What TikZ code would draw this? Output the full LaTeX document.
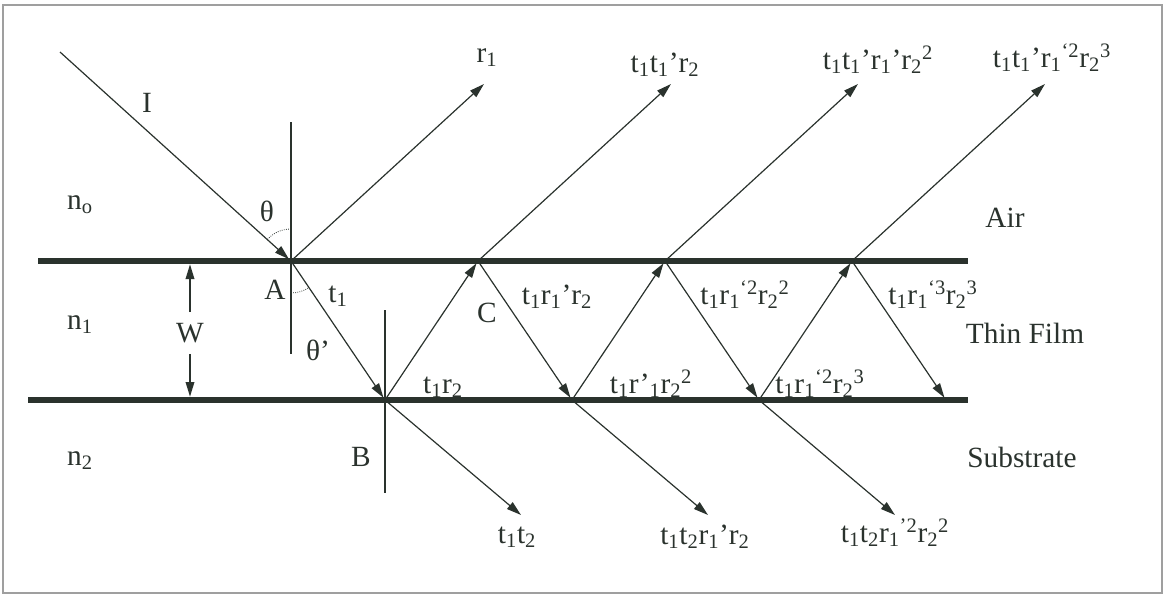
\documentclass[tikz,border=0pt]{standalone}
\usepackage{fontspec}
\setmainfont{Liberation Serif}
\usepackage{tikz}
\usetikzlibrary{arrows.meta}
\definecolor{ink}{HTML}{2A322D}
\newcommand\lowr[1]{\textsubscript{#1}}
\newcommand\highr[1]{\textsuperscript{#1}}

\begin{document}
\begin{tikzpicture}[x=0.75pt,y=-0.75pt,font=\fontsize{22}{26}\selectfont,
  ray/.style={ink,line width=0.9pt,-{Triangle[length=11pt,width=6.5pt]}},
  face/.style={ink,line width=5pt},
  normal/.style={ink,line width=1.1pt},
  angarc/.style={ink,line width=0.6pt,densely dotted},
  lbl/.style={inner sep=0pt,text=ink}]
\useasboundingbox (0,0) rectangle (1165,597);
\draw[gray!75,line width=1.2pt] (3,5) rectangle (1162,593);

\draw[face] (38,261) -- (968,261);
\draw[face] (28,400) -- (968,400);

\coordinate (src) at (60,52);
\foreach \k in {0,1,2,3} {
    \coordinate (top\k) at (291+187*\k,261);
    \coordinate (bot\k) at (385+187*\k,400);
    \coordinate (out\k) at (484+187*\k,84);
}
\foreach \k in {0,1,2}
    \coordinate (sub\k) at (521+187*\k,515);

\coordinate (nA1) at (291,122);
\coordinate (nA2) at (291,354);
\coordinate (nB1) at (385,310);
\coordinate (nB2) at (385,493);
\draw[normal] (nA1) -- (nA2);
\draw[normal] (nB1) -- (nB2);

\draw[ray,shorten >=2pt] (src) -- (top0);
\draw[ray,shorten >=2pt] (top0) -- (bot0);
\foreach \k/\n in {0/1,1/2,2/3}
    \draw[ray,shorten >=2pt] (bot\k) -- (top\n);
\foreach \k in {1,2,3}
    \draw[ray,shorten >=2pt] (top\k) -- (bot\k);
\foreach \k in {0,1,2,3}
    \draw[ray] (top\k) -- (out\k);
\foreach \k in {0,1,2}
    \draw[ray] (bot\k) -- (sub\k);

\coordinate (thA) at (291,229);
\coordinate (thB) at (291,293);
\draw[angarc] (thA) arc[start angle=90,end angle=138,radius=24pt];
\draw[angarc] (thB) arc[start angle=270,end angle=304,radius=24pt];

\coordinate (wup) at (190,261);
\coordinate (wdn) at (190,400);
\node[lbl,inner ysep=8pt] (wlbl) at (190,333) {W};
\draw[ray,shorten >=2.5pt] (wlbl) -- (wup);
\draw[ray,shorten >=2.5pt] (wlbl) -- (wdn);

\node[lbl] (inc) at (147,103) {I};
\node[lbl] (theta) at (267,211) {θ};
\node[lbl] (thetap) at (318,350) {θ’};
\node[lbl] (ptA) at (275,290) {A};
\node[lbl] (ptB) at (361,457) {B};
\node[lbl] (ptC) at (487,313) {C};
\node[lbl] (tA) at (338,296) {t\lowr{1}};

\node[lbl] (n0) at (80,205) {n\lowr{o}};
\node[lbl] (n1) at (80,325) {n\lowr{1}};
\node[lbl] (n2) at (80,461) {n\lowr{2}};
\node[lbl] (air) at (1005,218) {Air};
\node[lbl] (film) at (1025,333) {Thin Film};
\node[lbl] (subs) at (1022,457) {Substrate};

\node[lbl] (r0) at (487,58) {r\lowr{1}};
\node[lbl] (r1) at (665,65) {t\lowr{1}t\lowr{1}’r\lowr{2}};
\node[lbl] (r2) at (878,60) {t\lowr{1}t\lowr{1}’r\lowr{1}’r\lowr{2}\highr{2}};
\node[lbl] (r3) at (1052,58) {t\lowr{1}t\lowr{1}’r\lowr{1}\highr{‘2}r\lowr{2}\highr{3}};

\node[lbl] (d1) at (557,297) {t\lowr{1}r\lowr{1}’r\lowr{2}};
\node[lbl] (d2) at (745,295) {t\lowr{1}r\lowr{1}\highr{‘2}r\lowr{2}\highr{2}};
\node[lbl] (d3) at (933,295) {t\lowr{1}r\lowr{1}\highr{‘3}r\lowr{2}\highr{3}};

\node[lbl] (u0) at (443,387) {t\lowr{1}r\lowr{2}};
\node[lbl] (u1) at (651,384) {t\lowr{1}r’\lowr{1}r\lowr{2}\highr{2}};
\node[lbl] (u2) at (820,384) {t\lowr{1}r\lowr{1}\highr{‘2}r\lowr{2}\highr{3}};

\node[lbl] (s0) at (517,537) {t\lowr{1}t\lowr{2}};
\node[lbl] (s1) at (705,537) {t\lowr{1}t\lowr{2}r\lowr{1}’r\lowr{2}};
\node[lbl] (s2) at (895,533) {t\lowr{1}t\lowr{2}r\lowr{1}\highr{’2}r\lowr{2}\highr{2}};
\end{tikzpicture}
\end{document}
